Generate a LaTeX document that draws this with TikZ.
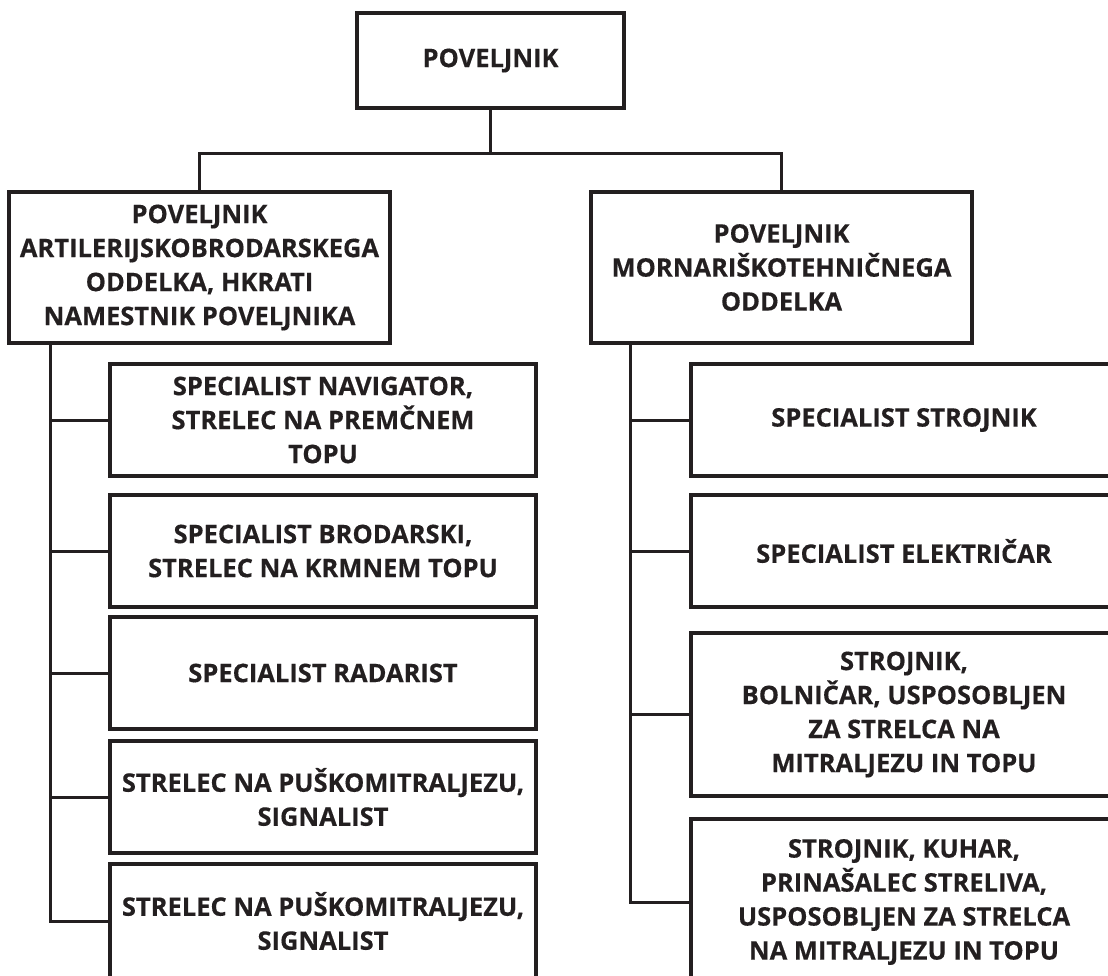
\documentclass[tikz,border=0pt]{standalone}
\usepackage{fontspec}
\setmainfont{Open Sans}[BoldFeatures={FakeBold=0.4}]
\definecolor{ink}{RGB}{35,31,32}
\begin{document}
\begin{tikzpicture}[x=1pt,y=1pt,
  box/.style={draw=ink, line width=3.2pt, align=center, inner sep=0pt,
    font=\fontsize{25.5}{34}\selectfont\bfseries, text=ink},
  conn/.style={draw=ink, line width=3pt}]
\useasboundingbox (0,0) rectangle (1108,-976);
\clip (0,0) rectangle (1108,-976);
% top level
\node[box, minimum width=267pt, minimum height=95pt] (top) at (490.5,-60.5) {POVELJNIK};
\node[box, minimum width=381pt, minimum height=151pt] (L) at (199.5,-267.5)
  {POVELJNIK\\ARTILERIJSKOBRODARSKEGA\\ODDELKA, HKRATI\\NAMESTNIK POVELJNIKA};
\node[box, minimum width=381pt, minimum height=151pt] (R) at (781.5,-267.5)
  {POVELJNIK\\MORNARIŠKOTEHNIČNEGA\\ODDELKA};
% left children
\node[box, minimum width=426pt, minimum height=112pt] (l1) at (323,-420)
  {SPECIALIST NAVIGATOR,\\STRELEC NA PREMČNEM\\TOPU};
\node[box, minimum width=426pt, minimum height=112pt] (l2) at (323,-551)
  {SPECIALIST BRODARSKI,\\STRELEC NA KRMNEM TOPU};
\node[box, minimum width=426pt, minimum height=112pt] (l3) at (323,-673)
  {SPECIALIST RADARIST};
\node[box, minimum width=426pt, minimum height=112pt] (l4) at (323,-797)
  {STRELEC NA PUŠKOMITRALJEZU,\\SIGNALIST};
\node[box, minimum width=426pt, minimum height=114pt] (l5) at (323,-921)
  {STRELEC NA PUŠKOMITRALJEZU,\\SIGNALIST};
% right children
\node[box, minimum width=426pt, minimum height=112pt] (r1) at (904,-420)
  {SPECIALIST STROJNIK};
\node[box, minimum width=426pt, minimum height=112pt] (r2) at (904,-551)
  {SPECIALIST ELEKTRIČAR};
\node[box, minimum width=426pt, minimum height=163pt] (r3) at (904,-714.5)
  {STROJNIK,\\BOLNIČAR, USPOSOBLJEN\\ZA STRELCA NA\\MITRALJEZU IN TOPU};
\node[box, minimum width=426pt, minimum height=166pt] (r4) at (904,-902)
  {STROJNIK, KUHAR,\\PRINAŠALEC STRELIVA,\\USPOSOBLJEN ZA STRELCA\\NA MITRALJEZU IN TOPU};
% connectors
\coordinate (hb) at (490.5,-154);
\draw[conn] (top.south) -- (hb);
\draw[conn] (L.north) -- (L.north |- hb) -- (R.north |- hb) -- (R.north);
\coordinate (lsp) at (50,-343);
\coordinate (rsp) at (630,-343);
\draw[conn] (lsp) |- (l5.west);
\foreach \n in {l1,l2,l3,l4} \draw[conn] (lsp |- \n.west) -- (\n.west);
\draw[conn] (rsp) |- (r4.west);
\foreach \n in {r1,r2,r3} \draw[conn] (rsp |- \n.west) -- (\n.west);
\end{tikzpicture}
\end{document}
